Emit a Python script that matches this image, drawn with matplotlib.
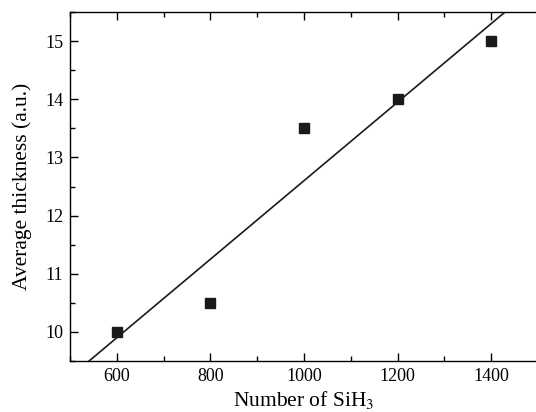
import numpy as np
from matplotlib import pyplot as plt
from matplotlib.ticker import MultipleLocator

silanes = np.array([600, 800, 1000, 1200, 1400])
thickness = np.array([10.0, 10.5, 13.5, 14.0, 15.0])


def main() -> None:
    plt.rcParams["font.family"] = ["Liberation Serif", "DejaVu Serif"]
    plt.rcParams["mathtext.fontset"] = "stix"

    fig = plt.figure(figsize=(5.36, 4.12), dpi=100)
    ax = fig.add_axes([70 / 536, 51 / 412, 468 / 536, 349 / 412])

    slope, icpt = np.polyfit(silanes, thickness, 1)
    xfit = np.array([500, 1500])
    ax.plot(xfit, slope * xfit + icpt, color="#1a1a1a", lw=1.2)
    ax.plot(silanes, thickness, "s", color="#1a1a1a", ms=6.5)

    ax.set_xlim(500, 1500)
    ax.set_ylim(9.5, 15.5)
    ax.xaxis.set_major_locator(MultipleLocator(200))
    ax.xaxis.set_minor_locator(MultipleLocator(100))
    ax.yaxis.set_major_locator(MultipleLocator(1))
    ax.yaxis.set_minor_locator(MultipleLocator(0.5))
    ax.tick_params(which="major", direction="in", length=6, width=1, labelsize=13, pad=5)
    ax.tick_params(which="minor", direction="in", length=3.5, width=1)
    ax.tick_params(which="both", top=True)
    for s in ax.spines.values():
        s.set_linewidth(1.0)

    ax.set_xlabel("Number of SiH$_3$", fontsize=15.5, labelpad=3)
    ax.set_ylabel("Average thickness (a.u.)", fontsize=15.5, labelpad=9)

    fig.savefig("out.png", dpi=100)


if __name__ == "__main__":
    main()
